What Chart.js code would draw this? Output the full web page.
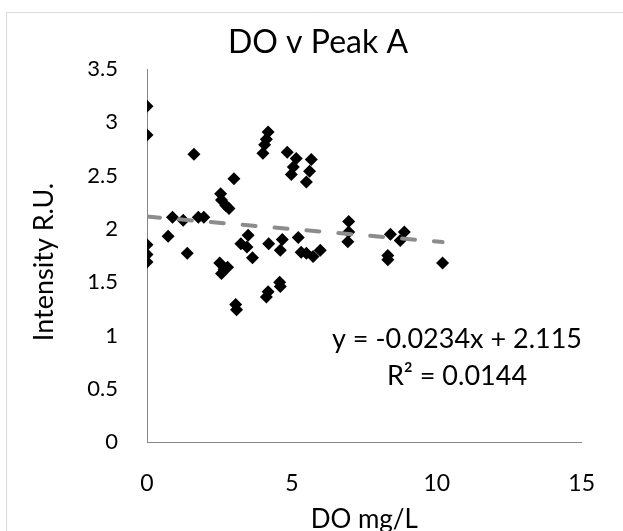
<!DOCTYPE html>
<html>
<head>
<meta charset="utf-8">
<script src="https://cdn.jsdelivr.net/npm/chart.js@4"></script>
<style>
  html, body { margin: 0; padding: 0; background: #fff; }
  #wrap { width: 623px; height: 531px; }
</style>
</head>
<body>
<div id="wrap"><canvas id="doChart" width="623" height="531"></canvas></div>
<script>
// DO (mg/L) vs Peak A intensity
const doX = [0, 0, 0, 0, 0,
  0.73, 0.88, 1.25, 1.39, 1.62, 1.77, 1.96,
  2.51, 2.54, 2.57, 2.57, 2.66, 2.72, 2.78, 2.83, 3.0, 3.06, 3.09, 3.24, 3.45, 3.49, 3.64,
  4.0, 4.06, 4.12, 4.12, 4.18, 4.18, 4.2, 4.58, 4.6, 4.6, 4.67, 4.84, 4.98, 5.05, 5.15, 5.22, 5.32, 5.5, 5.5, 5.61, 5.67, 5.73, 5.98,
  6.93, 6.96, 6.96,
  8.31, 8.31, 8.4, 8.74, 8.88,
  10.2];
const peakA = [3.15, 2.88, 1.85, 1.76, 1.69,
  1.93, 2.11, 2.08, 1.77, 2.70, 2.11, 2.11,
  1.68, 2.33, 1.58, 2.27, 1.62, 2.22, 1.64, 2.19, 2.47, 1.29, 1.24, 1.86, 1.83, 1.94, 1.73,
  2.71, 2.79, 2.84, 1.36, 2.91, 1.41, 1.86, 1.50, 1.46, 1.80, 1.90, 2.72, 2.51, 2.58, 2.66, 1.92, 1.78, 1.77, 2.44, 2.54, 2.65, 1.74, 1.80,
  1.88, 2.07, 1.97,
  1.75, 1.71, 1.95, 1.89, 1.97,
  1.68];

// linear trendline as printed on the chart
const trendSlope = -0.0234;
const trendIntercept = 2.115;
const eqLines = ['y = -0.0234x + 2.115', 'R\u00B2 = 0.0144'];

const chartTitle = 'DO v Peak A';
const xTitle = 'DO mg/L';
const yTitle = 'Intensity R.U.';

const FONT = 'Lato, "Open Sans", sans-serif';

const points = doX.map((x, i) => ({ x, y: peakA[i] }));
const xMax = Math.max(...doX);
const trendPts = [0, xMax].map(x => ({ x, y: trendSlope * x + trendIntercept }));

const decor = {
  id: 'decor',
  beforeDraw(chart) {
    const ctx = chart.ctx;
    ctx.save();
    ctx.fillStyle = '#fff';
    ctx.fillRect(0, 0, chart.width, chart.height);
    // outer chart frame (only left/top are inside the picture)
    ctx.strokeStyle = '#d9d9d9';
    ctx.lineWidth = 1;
    ctx.beginPath();
    ctx.moveTo(6.5, chart.height);
    ctx.lineTo(6.5, 12.5);
    ctx.lineTo(chart.width, 12.5);
    ctx.stroke();
    ctx.restore();
  },
  afterDraw(chart) {
    const ctx = chart.ctx;
    const a = chart.chartArea;
    ctx.save();
    ctx.fillStyle = '#000';
    ctx.textAlign = 'center';

    ctx.font = '32px ' + FONT;
    ctx.textBaseline = 'alphabetic';
    ctx.fillText(chartTitle, 318, 53);

    ctx.font = '26px ' + FONT;
    ctx.fillText(xTitle, (a.left + a.right) / 2, 528);

    ctx.font = '27px ' + FONT;
    ctx.fillText(eqLines[0], 457, 348);
    ctx.fillText(eqLines[1], 457, 385);

    ctx.translate(44, 262);
    ctx.rotate(-Math.PI / 2);
    ctx.font = '27px ' + FONT;
    ctx.textBaseline = 'middle';
    ctx.fillText(yTitle, 0, 0);
    ctx.restore();
  }
};

new Chart(document.getElementById('doChart').getContext('2d'), {
  type: 'scatter',
  data: {
    datasets: [
      { type: 'line', label: 'Linear (Peak A)', data: trendPts, borderColor: '#8c8c8c', borderWidth: 4,
        borderDash: [13, 19], borderCapStyle: 'round', pointRadius: 0, fill: false },
      { label: 'Peak A', data: points, pointStyle: 'rectRot', pointRadius: 6.5, pointBorderWidth: 0,
        backgroundColor: '#000', borderColor: '#000' }
    ]
  },
  options: {
    responsive: false,
    animation: false,
    layout: { padding: { top: 69, right: 40, left: 0, bottom: 0 } },
    plugins: { legend: { display: false }, tooltip: { enabled: false }, title: { display: false } },
    scales: {
      x: {
        type: 'linear', min: 0, max: 15,
        ticks: { stepSize: 5, padding: 28, color: '#000', font: { family: FONT, size: 23 },
          callback: v => String(v) },
        grid: { drawOnChartArea: false, drawTicks: false },
        border: { color: '#868686', width: 1 },
        afterFit: s => { s.height = 89; }
      },
      y: {
        min: 0, max: 3.5,
        ticks: { stepSize: 0.5, padding: 29, color: '#000', font: { family: FONT, size: 22 },
          callback: v => String(v) },
        grid: { drawOnChartArea: false, drawTicks: false },
        border: { color: '#868686', width: 1 },
        afterFit: s => { s.width = 147; }
      }
    }
  },
  plugins: [decor]
});
</script>
</body>
</html>
